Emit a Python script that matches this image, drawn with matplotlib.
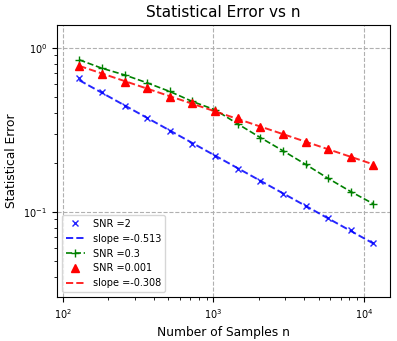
import matplotlib
matplotlib.use("Agg")
import matplotlib.pyplot as plt
import numpy as np

# sample sizes: 2^7 ... 2^13.5 in half-power steps
n_samples = 2.0 ** np.arange(7, 14, 0.5)

err_snr2 = [0.653, 0.537, 0.443, 0.373, 0.310, 0.260, 0.219,
            0.182, 0.154, 0.129, 0.109, 0.0915, 0.0777, 0.0650]
err_snr03 = [0.845, 0.751, 0.684, 0.612, 0.542, 0.471, 0.419,
             0.344, 0.284, 0.236, 0.195, 0.160, 0.133, 0.112]
err_snr0001 = [0.777, 0.694, 0.618, 0.568, 0.505, 0.460, 0.415,
               0.373, 0.331, 0.298, 0.268, 0.241, 0.215, 0.194]

slope_snr2 = -0.513
slope_snr0001 = -0.308


def fit_line(x, y):
    p = np.polyfit(np.log10(x), np.log10(y), 1)
    return 10 ** np.polyval(p, np.log10(x))


fig = plt.figure(figsize=(3.97, 3.41), dpi=100)
ax = fig.add_axes([0.1436, 0.129, 0.8384, 0.798])

ax.plot(n_samples, err_snr2, "bx", markersize=5, alpha=0.85, label="SNR =2")
ax.plot(n_samples, fit_line(n_samples, err_snr2), "b--", lw=1.4, alpha=0.85,
        label=f"slope ={slope_snr2}")
ax.plot(n_samples, err_snr03, "g--+", lw=1.2, markersize=6, label="SNR =0.3")
ax.plot(n_samples, err_snr0001, "r^", markersize=5.5, label="SNR =0.001")
ax.plot(n_samples, fit_line(n_samples, err_snr0001), "r--", lw=1.4, alpha=0.85,
        label=f"slope ={slope_snr0001}")

ax.set_xscale("log")
ax.set_yscale("log")
ax.set_xlim(91, 14900)
ax.set_ylim(0.0303, 1.38)
ax.grid(True, which="major", ls="--", color="#b0b0b0", lw=0.8)
ax.tick_params(labelsize=7)

ax.set_title("Statistical Error vs n", fontsize=11)
ax.set_xlabel("Number of Samples n", fontsize=8.8)
ax.set_ylabel("Statistical Error", fontsize=8.8)
ax.legend(loc="lower left", fontsize=7)

fig.savefig("out.png", dpi=100)
